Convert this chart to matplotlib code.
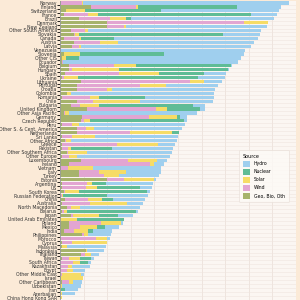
import matplotlib
matplotlib.use("Agg")
import matplotlib.pyplot as plt
import numpy as np

countries = [
    "Norway", "Finland", "Switzerland", "France", "Brazil", "Denmark",
    "New Zealand", "Other South America", "Slovakia", "Canada", "Austria",
    "Latvia", "Venezuela", "Slovenia", "Other CIS", "Ecuador", "Belgium",
    "Hungary", "Spain", "Ukraine", "Lithuania", "Portugal", "Croatia",
    "Colombia", "Romania", "Chile", "Bulgaria", "United Kingdom",
    "Other Asia Pacific", "Germany", "Czech Republic", "Peru",
    "Other S. & Cent. America", "Netherlands", "Sri Lanka", "Other Africa",
    "Greece", "Pakistan", "Other Southern Africa", "Other Europe",
    "Luxembourg", "Ireland", "Vietnam", "Italy", "Turkey", "Estonia",
    "Argentina", "US", "South Korea", "Russian Federation", "China",
    "Australia", "North Macedonia", "Belarus", "Japan",
    "United Arab Emirates", "Poland", "Mexico", "India", "Philippines",
    "Morocco", "Cyprus", "Malaysia", "Indonesia", "Thailand", "Taiwan",
    "South Africa", "Kazakhstan", "Egypt", "Other Middle East", "Israel",
    "Other Caribbean", "Uzbekistan", "Iran", "Azerbaijan",
    "China Hong Kong SAR",
]

# share of electricity generation, %
geo = [0.5, 13, 2.5, 1.7, 8, 20, 20, 4.5, 6, 1.5, 6, 5, 0, 1.5, 0.8, 1,
       4, 4, 2, 0.8, 9, 7, 7, 3, 1, 7, 4.5, 11.5, 1.5, 9.5, 9, 1, 7, 7, 1,
       2, 1, 1, 3, 1, 9, 4, 0.5, 8, 8, 20, 1, 1, 1.5, 0.3, 2, 1, 3, 1, 4.5,
       0, 4, 4, 1.5, 9.5, 0.3, 1, 1, 11, 9, 1, 0, 0, 0, 0.5, 0.5, 1, 0, 0,
       0.3, 0.5]
wind = [9, 19, 0.2, 10, 13, 58, 7, 6, 0.2, 6.5, 11, 3, 0, 0, 0.2, 0.2,
        19, 1, 23, 0.7, 46, 27, 13, 0.1, 11.5, 7, 4, 29, 0.5, 28, 1, 4, 4,
        22.5, 4, 0.5, 23, 2.5, 0.5, 3, 20, 34, 3, 8.5, 10.5, 7, 10.5, 10,
        0.5, 0.5, 10, 11.5, 1.5, 0.5, 1, 0, 13.5, 4.5, 4.5, 0.5, 15, 4, 0,
        0.2, 1.5, 3, 5.5, 3.5, 3, 0.5, 0, 3, 0, 0.2, 0.2, 0]
solar = [0.3, 1, 8, 4.3, 7, 10, 1, 1.5, 2, 1, 7.5, 1, 0, 7, 1.5, 0.1, 9,
         20, 17, 6, 6, 11, 2, 1.5, 4, 20, 8, 5, 2, 12, 2.5, 3, 3.5, 18, 10,
         2, 17.5, 1, 8, 3, 12, 2, 10.5, 11.5, 6.5, 13, 2, 4.5, 6, 0.3, 6,
         16, 4, 1.5, 11, 7, 8.5, 7, 6, 2, 4.7, 15, 2, 0.3, 2.5, 4.5, 3, 1.5,
         2.5, 8, 9.3, 1.5, 1, 0.3, 0.5, 0.5]
nuclear = [0, 42, 32, 65, 2, 0, 0, 0, 61, 14, 0, 0, 0, 35.5, 5.5, 0, 40.5,
           46, 19, 51, 0, 0, 0, 0, 19.5, 0, 40, 14, 0, 1.5, 40, 0, 0, 3, 0,
           0, 0, 17.5, 0, 0, 0, 0, 0, 0, 0, 0, 6, 18.5, 29, 19, 4.5, 0, 0,
           29, 8, 20, 0, 3.5, 2, 0, 0, 0, 0, 0, 0, 4.5, 3.5, 0, 0, 0, 0, 0,
           0, 1.5, 0, 0]
hydro = [87.2, 18.6, 50, 11, 60.6, 0.1, 59.6, 73, 15.4, 60.8, 57.5, 71.8,
         78.6, 33.8, 68.5, 74.3, 0.5, 0.5, 9.4, 11.3, 7.5, 21.8, 43.8, 60.8,
         29.2, 31, 5.1, 2, 54, 3, 1.3, 45, 37, 0, 35, 45, 7.3, 26, 36, 39.6,
         4.5, 4, 29, 14.6, 17, 0.5, 20, 5, 1, 17, 13.5, 6.5, 25.5, 1, 6.5,
         0.2, 0.8, 6, 8, 9.8, 1, 0, 16.5, 7, 3.5, 1.5, 1, 7.5, 5, 1, 0, 4,
         8, 5.5, 5.5, 0]

sources = ["Geo, Bio, Oth", "Wind", "Solar", "Nuclear", "Hydro"]
series = [geo, wind, solar, nuclear, hydro]
colors = ["#a6b36c", "#e2a5d2", "#f6dc66", "#5fbc96", "#9fcfee"]

# figure setup
fig = plt.figure(figsize=(3, 3), dpi=100, facecolor="#fbead7")
n_rows = 80
row_px = 3.93
top_px = 1.0
h = n_rows * row_px / 300
ax = fig.add_axes([60 / 300, 1 - top_px / 300 - h, 236 / 300, h])
ax.set_facecolor("#fbf6f2")

y = np.arange(len(countries))
left = np.zeros(len(countries))
for vals, name, c in zip(series, sources, colors):
    ax.barh(y, vals, left=left, height=0.82, color=c, label=name, zorder=2)
    left += np.array(vals)

ax.set_xlim(0, 100)
ax.set_ylim(n_rows - 0.5, -0.5)
ax.set_xticks(np.arange(0, 101, 10))
ax.set_yticks(y)
ax.set_yticklabels(countries, fontsize=3.3, color="#333333")
ax.set_yticks(np.arange(n_rows) + 0.5, minor=True)
ax.tick_params(axis="y", length=0, pad=2)
ax.tick_params(axis="x", length=0, labelbottom=False)
ax.grid(axis="x", color="#e9ddd6", lw=0.5, zorder=0)
ax.grid(axis="y", which="minor", color="#efe5df", lw=0.4, zorder=0)
for s in ["top", "right", "bottom"]:
    ax.spines[s].set_visible(False)
ax.spines["left"].set_color("#9a9a9a")
ax.spines["left"].set_linewidth(0.6)

handles, labels = ax.get_legend_handles_labels()
leg = fig.legend(handles[::-1], labels[::-1], title="Source",
                 loc="upper left", bbox_to_anchor=(237 / 300, 1 - 148 / 300),
                 fontsize=3.3, title_fontsize=3.5, frameon=True,
                 handlelength=1.6, handleheight=1.6, labelspacing=0.45,
                 borderpad=0.8, alignment="left")
leg.get_frame().set_facecolor("#fdfaf7")
leg.get_frame().set_edgecolor("#e6dcd5")
leg.get_frame().set_linewidth(0.5)

fig.savefig("out.png", dpi=100, facecolor=fig.get_facecolor())
